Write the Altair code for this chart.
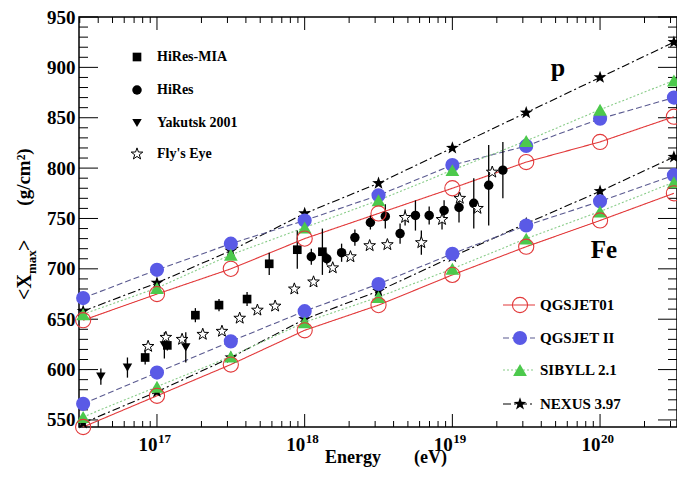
import math
import altair as alt
import pandas as pd

# ---------------- data ----------------
# model predictions, energies as log10(E/eV)
model_logE = [16.5, 17.0, 17.5, 18.0, 18.5, 19.0, 19.5, 20.0, 20.5]
qgsjet01_p = [649, 675, 700, 730, 755, 780, 806, 826, 851]
qgsjet01_fe = [543, 574, 605, 639, 664, 694, 722, 748, 775]
qgsjet2_p = [671, 699, 725, 748, 773, 803, 822, 849, 870]
qgsjet2_fe = [566, 597, 628, 658, 685, 715, 743, 767, 793]
sibyll_p = [655, 681, 714, 741, 768, 798, 827, 858, 887]
sibyll_fe = [553, 583, 613, 647, 672, 700, 730, 757, 786]
nexus_p = [658, 686, 718, 755, 785, 820, 855, 890, 925]
nexus_fe = [547, 578, 612, 650, 678, 712, 745, 777, 811]

# measurements
mia_logE = [16.92, 17.07, 17.26, 17.42, 17.61, 17.76, 17.95, 18.12]
mia_x = [612, 624, 654, 664, 670, 705, 719, 717]
mia_err = [7, 5, 7, 6, 7, 11, 19, 23]

hires_logE = [18.045, 18.15, 18.25, 18.34, 18.445, 18.546, 18.646, 18.75,
              18.843, 18.944, 19.045, 19.145, 19.246, 19.342]
hires_x = [712, 710, 716, 731, 746, 752, 735, 753, 753, 758, 761, 765, 783, 798]
hires_err = [8, 6, 9, 8, 7, 12, 10, 15, 9, 10, 15, 25, 40, 28]

yak_logE = [16.62, 16.80, 17.05, 17.195]
yak_x = [593, 602, 624, 622]
yak_err = [8, 10, 13, 15]

fly_logE = [16.94, 17.06, 17.17, 17.31, 17.44, 17.56, 17.68, 17.80, 17.93, 18.06,
            18.19, 18.31, 18.44, 18.56, 18.68, 18.79, 18.93, 19.05, 19.17, 19.27]
fly_x = [623, 632, 630, 635, 638, 651, 659, 663, 680, 687,
         701, 712, 723, 724, 751, 726, 749, 770, 760, 796]
fly_err = [0, 0, 0, 0, 0, 0, 0, 0, 0, 0, 0, 0, 0, 0, 8, 12, 10, 0, 0, 0]

x_major = [1e17, 1e18, 1e19, 1e20]
x_exponents = ["17", "18", "19", "20"]
y_labels = [550, 600, 650, 700, 750, 800, 850, 900, 950]

data_legend = ["HiRes-MIA", "HiRes", "Yakutsk 2001", "Fly's Eye"]
model_legend = ["QGSJET01", "QGSJET II", "SIBYLL 2.1", "NEXUS 3.97"]

# ---------------- layout / style ----------------
W, H = 598, 410
SERIF = "Liberation Serif"
XMIN, XMAX = 10 ** 16.472, 10 ** 20.521
YMIN, YMAX = 543, 950

RED = "#e2393a"
BLUE = "#5a5ae6"
BLUE_LINE = "#5a5a90"
GREEN = "#4cc94c"
GREEN_LINE = "#88cc88"

# star symbol path
pts = []
for k in range(10):
    r = 1.0 if k % 2 == 0 else 0.40
    a = math.radians(-90 + 36 * k)
    pts.append(f"{r*math.cos(a):.3f},{r*math.sin(a):.3f}")
STAR = "M" + "L".join(pts) + "Z"

xscale = alt.Scale(type="log", domain=[XMIN, XMAX], nice=False)
yscale = alt.Scale(domain=[YMIN, YMAX], nice=False, zero=False)
xaxis = alt.Axis(values=x_major, labelExpr="'10'", labelAlign="right", ticks=False,
                 grid=False, domain=False, labelFont=SERIF, labelFontSize=19,
                 labelFontWeight="bold", labelPadding=8, labelColor="black",
                 title=None, labelFlush=False, labelOverlap=False)
yaxis = alt.Axis(values=y_labels, ticks=False, grid=False, domain=False,
                 labelFont=SERIF, labelFontSize=19, labelFontWeight="bold",
                 labelPadding=4, labelColor="black", title=None, labelOverlap=False)

X = alt.X("E:Q", scale=xscale, axis=xaxis)
Y = alt.Y("X:Q", scale=yscale, axis=yaxis)

one = pd.DataFrame({"a": [0]})


def model_df(p, fe):
    rows = [{"E": 10 ** e, "X": v, "comp": "p"} for e, v in zip(model_logE, p)]
    rows += [{"E": 10 ** e, "X": v, "comp": "Fe"} for e, v in zip(model_logE, fe)]
    return pd.DataFrame(rows)


def meas_df(le, xv, err):
    return pd.DataFrame({"E": [10 ** e for e in le], "X": xv,
                         "lo": [v - d for v, d in zip(xv, err)],
                         "hi": [v + d for v, d in zip(xv, err)],
                         "err": err})


layers = []

# --- frame ticks (inward) ---
x_minor = [m * 10 ** d for d in range(16, 21) for m in range(2, 10)
           if XMIN <= m * 10 ** d <= XMAX]
y_minor = [v for v in range(550, 950, 10) if v % 50 != 0]
dfxM = pd.DataFrame({"E": x_major})
dfxm = pd.DataFrame({"E": x_minor})
dfyM = pd.DataFrame({"X": y_labels})
dfym = pd.DataFrame({"X": y_minor})
for df, ln in [(dfxM, 13), (dfxm, 6)]:
    layers.append(alt.Chart(df).mark_rule(color="black", strokeWidth=1).encode(
        x=X, y=alt.value(H), y2=alt.value(H - ln)))
    layers.append(alt.Chart(df).mark_rule(color="black", strokeWidth=1).encode(
        x=X, y=alt.value(0), y2=alt.value(ln)))
for df, ln in [(dfyM, 19), (dfym, 9)]:
    layers.append(alt.Chart(df).mark_rule(color="black", strokeWidth=1).encode(
        y=Y, x=alt.value(0), x2=alt.value(ln)))
    layers.append(alt.Chart(df).mark_rule(color="black", strokeWidth=1).encode(
        y=Y, x=alt.value(W), x2=alt.value(W - ln)))

# exponents of x labels
layers.append(alt.Chart(pd.DataFrame({"E": x_major, "t": x_exponents})).mark_text(
    font=SERIF, fontSize=13, fontWeight="bold", align="left", baseline="alphabetic",
    dx=1, color="black").encode(x=X, y=alt.value(H + 16), text="t:N"))

# --- model lines ---
models = [
    ("nexus", nexus_p, nexus_fe, "black", [8, 3, 2, 3], "black"),
    ("qgs2", qgsjet2_p, qgsjet2_fe, BLUE_LINE, [6, 3], BLUE),
    ("sib", sibyll_p, sibyll_fe, GREEN_LINE, [2, 2], GREEN),
    ("qgs01", qgsjet01_p, qgsjet01_fe, RED, [1, 0], RED),
]
for name, p, fe, lc, dash, mc in models:
    layers.append(alt.Chart(model_df(p, fe)).mark_line(
        color=lc, strokeDash=dash, strokeWidth=1.1).encode(x=X, y=Y, detail="comp:N"))

# --- measurements ---
meas = [
    (meas_df(mia_logE, mia_x, mia_err), dict(shape="square", size=75, filled=True,
                                             color="black")),
    (meas_df(hires_logE, hires_x, hires_err), dict(shape="circle", size=90, filled=True,
                                                   color="black")),
    (meas_df(yak_logE, yak_x, yak_err), dict(shape="triangle-down", size=90, filled=True,
                                             color="black")),
    (meas_df(fly_logE, fly_x, fly_err), dict(shape=STAR, size=150, filled=True,
                                             fill="white", stroke="black",
                                             strokeWidth=1)),
]
for df, sty in meas:
    layers.append(alt.Chart(df[df["err"] > 0]).mark_rule(
        color="black", strokeWidth=1.3).encode(
        x=X, y=alt.Y("lo:Q", scale=yscale, axis=yaxis), y2="hi:Q"))
for df, sty in meas:
    layers.append(alt.Chart(df).mark_point(opacity=1, **sty).encode(x=X, y=Y))

# --- model markers ---
msty = {
    "nexus": dict(shape=STAR, size=180, filled=True, color="black"),
    "qgs2": dict(shape="circle", size=200, filled=True, color=BLUE),
    "sib": dict(shape="triangle-up", size=190, filled=True, color=GREEN),
    "qgs01": dict(shape="circle", size=230, filled=False, color=RED, strokeWidth=1.1),
}
for name, p, fe, lc, dash, mc in models:
    layers.append(alt.Chart(model_df(p, fe)).mark_point(opacity=1, **msty[name]).encode(
        x=X, y=Y))


# --- text helpers ---
def txt(s, px, py, size, align="left", baseline="middle", angle=0):
    kw = dict(text=s, font=SERIF, fontSize=size, fontWeight="bold", align=align,
              baseline=baseline, color="black")
    if angle:
        kw["angle"] = angle
    return alt.Chart(one).mark_text(**kw).encode(x=alt.value(px), y=alt.value(py))


# data legend
d_rows = [40, 73, 106, 137]
d_sym = [dict(shape="square", size=75, filled=True, color="black"),
         dict(shape="circle", size=90, filled=True, color="black"),
         dict(shape="triangle-down", size=90, filled=True, color="black"),
         dict(shape=STAR, size=150, filled=True, fill="white", stroke="black",
              strokeWidth=1)]
for lab, py, sty in zip(data_legend, d_rows, d_sym):
    layers.append(alt.Chart(one).mark_point(opacity=1, **sty).encode(
        x=alt.value(58), y=alt.value(py)))
    layers.append(txt(lab, 78, py, 14))

# model legend
m_rows = [288, 321, 353, 387]
m_order = ["qgs01", "qgs2", "sib", "nexus"]
mdict = {m[0]: m for m in models}
for lab, py, key in zip(model_legend, m_rows, m_order):
    _, _, _, lc, dash, mc = mdict[key]
    layers.append(alt.Chart(one).mark_rule(color=lc, strokeDash=dash,
                                           strokeWidth=1.1).encode(
        x=alt.value(424), x2=alt.value(456), y=alt.value(py)))
    layers.append(alt.Chart(one).mark_point(opacity=1, **msty[key]).encode(
        x=alt.value(441), y=alt.value(py)))
    layers.append(txt(lab, 461, py, 15))

# annotations
layers.append(txt("p", 479, 59, 26, align="center", baseline="alphabetic"))
layers.append(txt("Fe", 525, 241, 25, align="center", baseline="alphabetic"))

# axis titles
layers.append(txt("Energy", 246, 441, 18))
layers.append(txt("(eV)", 335, 441, 18))
layers.append(txt("(g/cm²)", -55, 160, 19, align="center", angle=270))
layers.append(txt("<X", -54, 283, 20, align="left", angle=270))
layers.append(txt("max", -47, 257, 13, align="left", angle=270))
layers.append(txt(">", -54, 234, 20, align="left", angle=270))

chart = alt.layer(*layers).properties(
    width=W, height=H,
    autosize=alt.AutoSizeParams(type="none"),
    padding={"left": 71, "top": 9, "right": 0, "bottom": 42},
    background="white",
).configure_view(stroke="black", strokeWidth=1.5)

chart.save("out.html", embed_options={"renderer": "svg", "actions": False})
